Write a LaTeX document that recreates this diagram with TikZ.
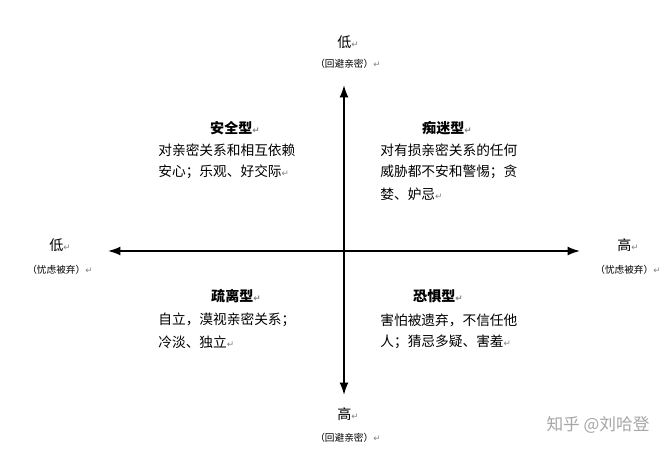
\documentclass[tikz,border=0pt]{standalone}
\usepackage{fontspec}
\setmainfont{Noto Sans CJK SC}
\newfontfamily\symfont{DejaVu Sans}
\usetikzlibrary{arrows.meta}

\tikzset{
  axis/.style={line width=0.9pt, -{Latex[length=7pt,width=5pt]}},
  tick/.style={font=\fontsize{8}{9}\selectfont},
  note/.style={font=\fontsize{5.5}{6}\selectfont},
  kind/.style={font=\fontsize{8}{9}\selectfont\bfseries},
  desc/.style={anchor=west, font=\fontsize{7.8}{9}\selectfont, inner sep=0pt},
}
\newcommand{\ret}{{\symfont\fontsize{5}{5}\selectfont\color{gray}↵}}

\begin{document}
\begin{tikzpicture}[x=0.02cm, y=-0.02cm]
    \useasboundingbox[fill=white] (0,0) rectangle (672,454);

    % 坐标轴
    \coordinate (O) at (344,251);
    \coordinate (L) at (108,251);
    \coordinate (R) at (580,251);
    \coordinate (T) at (344,85);
    \coordinate (B) at (344,395);
    \draw[axis] (O) -- (L);
    \draw[axis] (O) -- (R);
    \draw[axis] (O) -- (T);
    \draw[axis] (O) -- (B);

    % 轴标签
    \node[tick] (tlow) at (348,42) {低\ret};
    \node[note] (tnote) at (348,64) {（回避亲密）\ret};
    \node[tick] (bhigh) at (348,414) {高\ret};
    \node[note] (bnote) at (348,438) {（回避亲密）\ret};
    \node[tick] (llow) at (60,245) {低\ret};
    \node[note] (lnote) at (60,270) {（忧虑被弃）\ret};
    \node[tick] (rhigh) at (628,245) {高\ret};
    \node[note] (rnote) at (628,270) {（忧虑被弃）\ret};

    % 四个象限
    \node[kind] (secure) at (235,128) {安全型\ret};
    \node[desc] (secure1) at (158,150) {对亲密关系和相互依赖};
    \node[desc] (secure2) at (158,172) {安心；乐观、好交际\ret};

    \node[kind] (preocc) at (447,128) {痴迷型\ret};
    \node[desc] (preocc1) at (380,150) {对有损亲密关系的任何};
    \node[desc] (preocc2) at (380,172) {威胁都不安和警惕；贪};
    \node[desc] (preocc3) at (380,194) {婪、妒忌\ret};

    \node[kind] (dismiss) at (236,296) {疏离型\ret};
    \node[desc] (dismiss1) at (158,320) {自立，漠视亲密关系；};
    \node[desc] (dismiss2) at (158,342) {冷淡、独立\ret};

    \node[kind] (fear) at (438,296) {恐惧型\ret};
    \node[desc] (fear1) at (380,320) {害怕被遗弃，不信任他};
    \node[desc] (fear2) at (380,342) {人；猜忌多疑、害羞\ret};

    % 水印
    \node[font=\fontsize{9.5}{10}\selectfont, text=gray!70] (mark) at (598,425) {知乎 @刘哈登};
\end{tikzpicture}
\end{document}
